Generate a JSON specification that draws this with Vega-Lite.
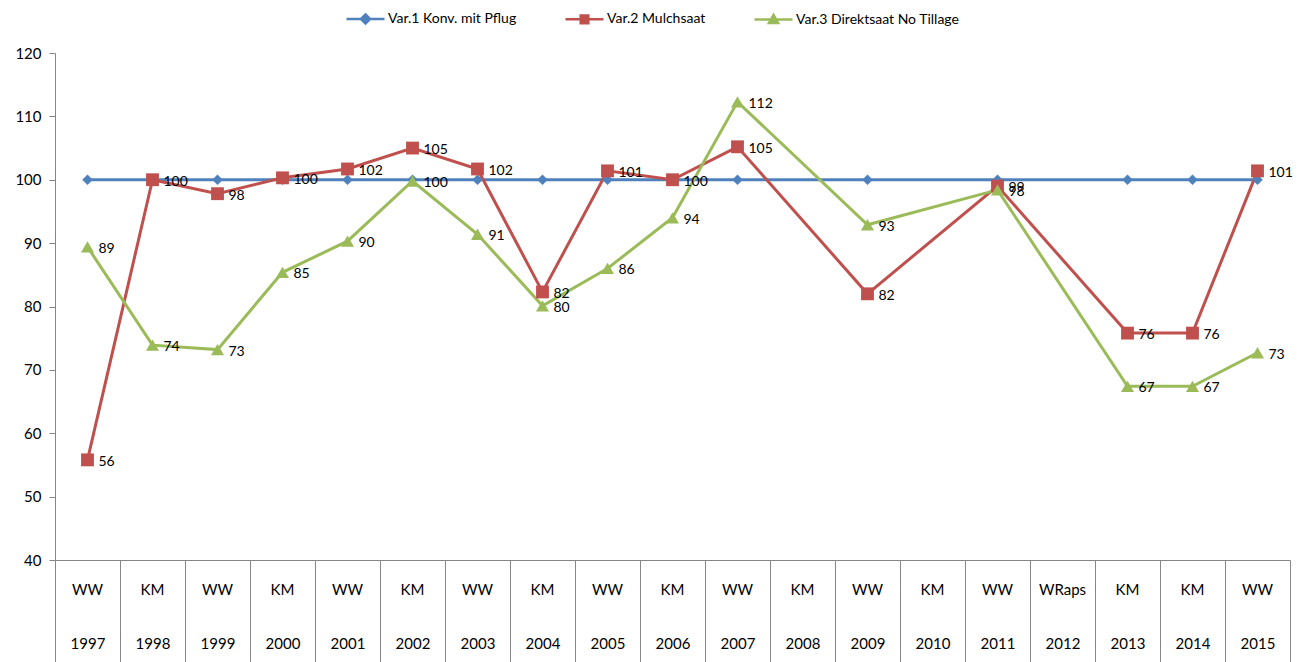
{
  "$schema": "https://vega.github.io/schema/vega-lite/v6.json",
  "width": 1235,
  "height": 507,
  "autosize": {"type": "none"},
  "padding": {"left": 55, "top": 53, "right": 23, "bottom": 102},
  "background": "white",
  "config": {
    "view": {"stroke": null},
    "font": "Lato",
    "axis": {"labelFont": "Lato", "labelColor": "#000000", "domainColor": "#868686", "tickColor": "#868686", "grid": false, "title": null},
    "legend": {"labelFont": "Lato", "labelFontSize": 14, "labelColor": "#000000", "labelLimit": 400}
  },
  "datasets": {
    "cats": [
      {"year": 1997, "crop": "WW"}, {"year": 1998, "crop": "KM"}, {"year": 1999, "crop": "WW"},
      {"year": 2000, "crop": "KM"}, {"year": 2001, "crop": "WW"}, {"year": 2002, "crop": "KM"},
      {"year": 2003, "crop": "WW"}, {"year": 2004, "crop": "KM"}, {"year": 2005, "crop": "WW"},
      {"year": 2006, "crop": "KM"}, {"year": 2007, "crop": "WW"}, {"year": 2008, "crop": "KM"},
      {"year": 2009, "crop": "WW"}, {"year": 2010, "crop": "KM"}, {"year": 2011, "crop": "WW"},
      {"year": 2012, "crop": "WRaps"}, {"year": 2013, "crop": "KM"}, {"year": 2014, "crop": "KM"},
      {"year": 2015, "crop": "WW"}
    ],
    "main": [
      {"year": 1997, "series": "Var.1 Konv. mit Pflug", "value": 100},
      {"year": 1998, "series": "Var.1 Konv. mit Pflug", "value": 100},
      {"year": 1999, "series": "Var.1 Konv. mit Pflug", "value": 100},
      {"year": 2000, "series": "Var.1 Konv. mit Pflug", "value": 100},
      {"year": 2001, "series": "Var.1 Konv. mit Pflug", "value": 100},
      {"year": 2002, "series": "Var.1 Konv. mit Pflug", "value": 100},
      {"year": 2003, "series": "Var.1 Konv. mit Pflug", "value": 100},
      {"year": 2004, "series": "Var.1 Konv. mit Pflug", "value": 100},
      {"year": 2005, "series": "Var.1 Konv. mit Pflug", "value": 100},
      {"year": 2006, "series": "Var.1 Konv. mit Pflug", "value": 100},
      {"year": 2007, "series": "Var.1 Konv. mit Pflug", "value": 100},
      {"year": 2009, "series": "Var.1 Konv. mit Pflug", "value": 100},
      {"year": 2011, "series": "Var.1 Konv. mit Pflug", "value": 100},
      {"year": 2013, "series": "Var.1 Konv. mit Pflug", "value": 100},
      {"year": 2014, "series": "Var.1 Konv. mit Pflug", "value": 100},
      {"year": 2015, "series": "Var.1 Konv. mit Pflug", "value": 100},
      {"year": 1997, "series": "Var.2 Mulchsaat", "value": 55.8},
      {"year": 1998, "series": "Var.2 Mulchsaat", "value": 100},
      {"year": 1999, "series": "Var.2 Mulchsaat", "value": 97.8},
      {"year": 2000, "series": "Var.2 Mulchsaat", "value": 100.3},
      {"year": 2001, "series": "Var.2 Mulchsaat", "value": 101.7},
      {"year": 2002, "series": "Var.2 Mulchsaat", "value": 105},
      {"year": 2003, "series": "Var.2 Mulchsaat", "value": 101.7},
      {"year": 2004, "series": "Var.2 Mulchsaat", "value": 82.3},
      {"year": 2005, "series": "Var.2 Mulchsaat", "value": 101.4},
      {"year": 2006, "series": "Var.2 Mulchsaat", "value": 100},
      {"year": 2007, "series": "Var.2 Mulchsaat", "value": 105.2},
      {"year": 2009, "series": "Var.2 Mulchsaat", "value": 82},
      {"year": 2011, "series": "Var.2 Mulchsaat", "value": 99},
      {"year": 2013, "series": "Var.2 Mulchsaat", "value": 75.8},
      {"year": 2014, "series": "Var.2 Mulchsaat", "value": 75.8},
      {"year": 2015, "series": "Var.2 Mulchsaat", "value": 101.4},
      {"year": 1997, "series": "Var.3 Direktsaat No Tillage", "value": 89.4},
      {"year": 1998, "series": "Var.3 Direktsaat No Tillage", "value": 73.9},
      {"year": 1999, "series": "Var.3 Direktsaat No Tillage", "value": 73.2},
      {"year": 2000, "series": "Var.3 Direktsaat No Tillage", "value": 85.4},
      {"year": 2001, "series": "Var.3 Direktsaat No Tillage", "value": 90.3},
      {"year": 2002, "series": "Var.3 Direktsaat No Tillage", "value": 99.8},
      {"year": 2003, "series": "Var.3 Direktsaat No Tillage", "value": 91.4},
      {"year": 2004, "series": "Var.3 Direktsaat No Tillage", "value": 80.1},
      {"year": 2005, "series": "Var.3 Direktsaat No Tillage", "value": 86},
      {"year": 2006, "series": "Var.3 Direktsaat No Tillage", "value": 94},
      {"year": 2007, "series": "Var.3 Direktsaat No Tillage", "value": 112.3},
      {"year": 2009, "series": "Var.3 Direktsaat No Tillage", "value": 92.9},
      {"year": 2011, "series": "Var.3 Direktsaat No Tillage", "value": 98.4},
      {"year": 2013, "series": "Var.3 Direktsaat No Tillage", "value": 67.4},
      {"year": 2014, "series": "Var.3 Direktsaat No Tillage", "value": 67.4},
      {"year": 2015, "series": "Var.3 Direktsaat No Tillage", "value": 72.7}
    ]
  },
  "layer": [
    {
      "data": {"name": "cats"},
      "mark": {"type": "text", "fontSize": 15, "font": "Lato", "color": "#000000", "dy": 30, "baseline": "middle"},
      "encoding": {
        "x": {"field": "year", "type": "ordinal", "bandPosition": 0.5,
          "scale": {"type": "band", "paddingInner": 0, "paddingOuter": 0},
          "axis": {"orient": "bottom", "tickBand": "extent", "tickSize": 102, "labelPadding": -26, "labelFontSize": 15, "labelAngle": 0, "labelBaseline": "top", "domainColor": "#868686"}},
        "y": {"datum": 40, "type": "quantitative"},
        "text": {"field": "crop"}
      }
    },
    {
      "data": {"name": "main"},
      "mark": {"type": "line", "strokeWidth": 3},
      "encoding": {
        "x": {"field": "year", "type": "ordinal", "bandPosition": 0.5},
        "y": {"field": "value", "type": "quantitative",
          "scale": {"domain": [40, 120], "nice": false, "zero": false},
          "axis": {"values": [40, 50, 60, 70, 80, 90, 100, 110, 120], "labelFontSize": 15, "tickSize": 6, "labelPadding": 8}},
        "color": {"field": "series", "type": "nominal",
          "scale": {"domain": ["Var.1 Konv. mit Pflug", "Var.2 Mulchsaat", "Var.3 Direktsaat No Tillage"], "range": ["#4F81BD", "#C0504D", "#9BBB59"]},
          "legend": {"orient": "none", "legendX": 290, "legendY": -55, "direction": "horizontal", "title": null,
            "symbolSize": 1444, "symbolStrokeWidth": 2.5, "labelOffset": 2, "columnPadding": 43,
            "encode": {"symbols": {"update": {
              "shape": {"signal": "datum.index == 0 ? 'M-1,0H1M0,-0.24L0.24,0L0,0.24L-0.24,0Z' : datum.index == 1 ? 'M-1,0H1M-0.2,-0.2H0.2V0.2H-0.2Z' : 'M-1,0H1M0,-0.24L0.24,0.18H-0.24Z'"},
              "fill": {"scale": "color", "field": "value"},
              "stroke": {"scale": "color", "field": "value"},
              "opacity": {"value": 1}
            }}}}}
      }
    },
    {
      "data": {"name": "main"},
      "transform": [{"filter": "datum.series == 'Var.1 Konv. mit Pflug'"}],
      "mark": {"type": "point", "filled": true, "opacity": 1, "shape": "diamond", "size": 110, "color": "#4F81BD"},
      "encoding": {
        "x": {"field": "year", "type": "ordinal", "bandPosition": 0.5},
        "y": {"field": "value", "type": "quantitative"}
      }
    },
    {
      "data": {"name": "main"},
      "transform": [{"filter": "datum.series == 'Var.2 Mulchsaat'"}],
      "mark": {"type": "point", "filled": true, "opacity": 1, "shape": "square", "size": 165, "color": "#C0504D"},
      "encoding": {
        "x": {"field": "year", "type": "ordinal", "bandPosition": 0.5},
        "y": {"field": "value", "type": "quantitative"}
      }
    },
    {
      "data": {"name": "main"},
      "transform": [{"filter": "datum.series == 'Var.3 Direktsaat No Tillage'"}],
      "mark": {"type": "point", "filled": true, "opacity": 1, "shape": "triangle-up", "size": 170, "color": "#9BBB59"},
      "encoding": {
        "x": {"field": "year", "type": "ordinal", "bandPosition": 0.5},
        "y": {"field": "value", "type": "quantitative"}
      }
    },
    {
      "data": {"name": "main"},
      "transform": [{"filter": "datum.series != 'Var.1 Konv. mit Pflug'"}],
      "mark": {"type": "text", "align": "left", "baseline": "middle", "dx": 11, "dy": 2, "fontSize": 14, "font": "Lato", "color": "#000000"},
      "encoding": {
        "x": {"field": "year", "type": "ordinal", "bandPosition": 0.5},
        "y": {"field": "value", "type": "quantitative"},
        "text": {"field": "value", "type": "quantitative", "format": ".0f"}
      }
    }
  ]
}
